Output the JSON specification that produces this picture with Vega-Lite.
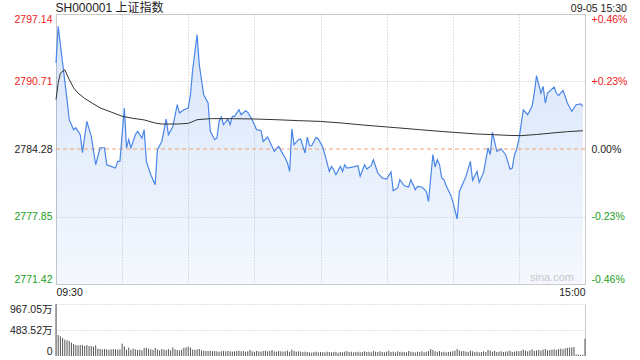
{
"$schema": "https://vega.github.io/schema/vega-lite/v6.json",
"background": "#ffffff",
"padding": {"left": 5, "top": 2, "right": 5, "bottom": 4},
"bounds": "flush",
"spacing": 20,
"config": {
  "font": "Liberation Sans, Noto Sans CJK SC",
  "view": {"stroke": null},
  "axis": {"labelFont": "Liberation Sans, Noto Sans CJK SC", "labelFontSize": 10.5, "ticks": false, "domain": false, "title": null, "labelOverlap": false},
  "title": {"font": "Liberation Sans, Noto Sans CJK SC", "fontWeight": "normal", "color": "#222222"}
},
"title": {"text": "SH000001 上证指数", "anchor": "start", "fontSize": 12, "offset": 2, "dy": 14, "dx": 50},
"datasets": {
"price": [
{"m":0,"p":2792.47},{"m":1,"p":2795.96},{"m":3,"p":2792.47},{"m":5,"p":2788.98},{"m":6,"p":2787.07},{"m":8,"p":2786.12},{"m":9,"p":2786.31},{"m":11,"p":2785.64},{"m":12,"p":2783.93},{"m":14,"p":2786.91},{"m":16,"p":2785.48},{"m":18,"p":2782.78},{"m":20,"p":2784.40},{"m":22,"p":2784.40},{"m":23,"p":2782.78},{"m":25,"p":2782.62},{"m":27,"p":2782.47},{"m":28,"p":2783.10},{"m":29,"p":2783.10},{"m":31,"p":2788.19},{"m":32,"p":2784.38},{"m":33,"p":2785.17},{"m":34,"p":2784.38},{"m":36,"p":2785.64},{"m":37,"p":2785.96},{"m":39,"p":2785.33},{"m":40,"p":2786.12},{"m":41,"p":2783.10},{"m":43,"p":2781.83},{"m":45,"p":2780.88},{"m":46,"p":2784.21},{"m":48,"p":2785.00},{"m":50,"p":2787.14},{"m":51,"p":2785.64},{"m":53,"p":2786.43},{"m":55,"p":2788.50},{"m":56,"p":2787.71},{"m":58,"p":2788.02},{"m":60,"p":2788.19},{"m":61,"p":2789.45},{"m":62,"p":2791.83},{"m":64,"p":2795.17},{"m":65,"p":2792.31},{"m":66,"p":2790.88},{"m":67,"p":2789.45},{"m":69,"p":2788.66},{"m":70,"p":2785.96},{"m":72,"p":2785.17},{"m":73,"p":2785.33},{"m":74,"p":2786.91},{"m":75,"p":2787.33},{"m":76,"p":2786.59},{"m":78,"p":2787.14},{"m":79,"p":2786.59},{"m":80,"p":2787.39},{"m":81,"p":2787.39},{"m":83,"p":2788.02},{"m":84,"p":2787.55},{"m":86,"p":2787.93},{"m":87,"p":2787.77},{"m":89,"p":2787.07},{"m":91,"p":2786.12},{"m":93,"p":2786.05},{"m":94,"p":2785.00},{"m":96,"p":2785.42},{"m":98,"p":2784.53},{"m":99,"p":2784.05},{"m":101,"p":2784.53},{"m":102,"p":2784.15},{"m":104,"p":2783.42},{"m":105,"p":2782.95},{"m":106,"p":2782.15},{"m":107,"p":2786.19},{"m":108,"p":2784.69},{"m":110,"p":2785.17},{"m":111,"p":2785.23},{"m":113,"p":2783.90},{"m":114,"p":2785.42},{"m":115,"p":2784.59},{"m":116,"p":2784.59},{"m":118,"p":2785.38},{"m":119,"p":2785.23},{"m":121,"p":2784.47},{"m":122,"p":2783.74},{"m":124,"p":2782.15},{"m":125,"p":2782.62},{"m":126,"p":2782.31},{"m":127,"p":2781.83},{"m":129,"p":2782.62},{"m":130,"p":2782.15},{"m":131,"p":2782.78},{"m":132,"p":2782.47},{"m":135,"p":2782.57},{"m":137,"p":2782.69},{"m":138,"p":2781.67},{"m":140,"p":2782.78},{"m":141,"p":2782.37},{"m":143,"p":2782.69},{"m":144,"p":2783.26},{"m":146,"p":2781.99},{"m":148,"p":2781.52},{"m":150,"p":2781.42},{"m":152,"p":2782.09},{"m":153,"p":2780.31},{"m":155,"p":2780.57},{"m":156,"p":2781.36},{"m":158,"p":2780.78},{"m":160,"p":2780.66},{"m":161,"p":2781.36},{"m":163,"p":2780.40},{"m":164,"p":2780.72},{"m":166,"p":2780.66},{"m":168,"p":2780.24},{"m":169,"p":2779.29},{"m":171,"p":2783.74},{"m":172,"p":2782.57},{"m":173,"p":2783.26},{"m":174,"p":2782.78},{"m":175,"p":2781.52},{"m":176,"p":2781.36},{"m":177,"p":2780.78},{"m":179,"p":2779.93},{"m":180,"p":2779.29},{"m":182,"p":2777.61},{"m":183,"p":2780.24},{"m":185,"p":2781.19},{"m":186,"p":2781.67},{"m":188,"p":2783.10},{"m":189,"p":2781.29},{"m":191,"p":2782.15},{"m":192,"p":2781.10},{"m":194,"p":2782.05},{"m":196,"p":2784.38},{"m":197,"p":2783.74},{"m":198,"p":2785.86},{"m":200,"p":2784.05},{"m":202,"p":2784.28},{"m":204,"p":2783.74},{"m":206,"p":2782.37},{"m":207,"p":2782.47},{"m":208,"p":2783.74},{"m":209,"p":2784.28},{"m":210,"p":2785.17},{"m":211,"p":2786.59},{"m":212,"p":2788.02},{"m":214,"p":2787.55},{"m":216,"p":2788.34},{"m":217,"p":2789.61},{"m":218,"p":2791.26},{"m":220,"p":2789.61},{"m":221,"p":2790.24},{"m":222,"p":2788.66},{"m":223,"p":2789.61},{"m":226,"p":2790.19},{"m":227,"p":2789.61},{"m":228,"p":2789.36},{"m":230,"p":2789.86},{"m":231,"p":2789.29},{"m":232,"p":2788.66},{"m":234,"p":2787.86},{"m":236,"p":2788.50},{"m":238,"p":2788.57},{"m":239,"p":2788.34}
],
"avg": [
{"m":0,"a":2788.98},{"m":1,"a":2790.6},{"m":2,"a":2791.5},{"m":4,"a":2791.83},{"m":6,"a":2790.9},{"m":8,"a":2790.1},{"m":10,"a":2789.6},{"m":13,"a":2789.1},{"m":16,"a":2788.7},{"m":20,"a":2788.2},{"m":25,"a":2787.8},{"m":30,"a":2787.4},{"m":35,"a":2787.2},{"m":40,"a":2787.05},{"m":45,"a":2786.75},{"m":48,"a":2786.66},{"m":55,"a":2786.66},{"m":60,"a":2786.72},{"m":64,"a":2787.07},{"m":70,"a":2787.17},{"m":80,"a":2787.17},{"m":90,"a":2787.14},{"m":100,"a":2787.07},{"m":110,"a":2786.98},{"m":120,"a":2786.91},{"m":130,"a":2786.75},{"m":140,"a":2786.55},{"m":150,"a":2786.38},{"m":156,"a":2786.28},{"m":165,"a":2786.12},{"m":175,"a":2785.95},{"m":181,"a":2785.86},{"m":190,"a":2785.72},{"m":199,"a":2785.64},{"m":205,"a":2785.58},{"m":211,"a":2785.55},{"m":218,"a":2785.66},{"m":225,"a":2785.80},{"m":232,"a":2785.93},{"m":239,"a":2786.02}
],
"vol": [
{"m":0,"v":967},{"m":1,"v":390},{"m":2,"v":366},{"m":3,"v":335},{"m":4,"v":304},{"m":5,"v":291},{"m":6,"v":279},{"m":7,"v":248},{"m":8,"v":223},{"m":9,"v":205},{"m":10,"v":198},{"m":11,"v":205},{"m":12,"v":205},{"m":13,"v":186},{"m":14,"v":205},{"m":15,"v":186},{"m":16,"v":186},{"m":17,"v":174},{"m":18,"v":198},{"m":19,"v":136},{"m":20,"v":130},{"m":21,"v":124},{"m":22,"v":130},{"m":23,"v":124},{"m":24,"v":118},{"m":25,"v":124},{"m":26,"v":130},{"m":27,"v":124},{"m":28,"v":118},{"m":29,"v":124},{"m":30,"v":230},{"m":31,"v":180},{"m":32,"v":118},{"m":33,"v":155},{"m":34,"v":112},{"m":35,"v":136},{"m":36,"v":124},{"m":37,"v":112},{"m":38,"v":118},{"m":39,"v":105},{"m":40,"v":149},{"m":41,"v":155},{"m":42,"v":136},{"m":43,"v":124},{"m":44,"v":112},{"m":45,"v":149},{"m":46,"v":124},{"m":47,"v":105},{"m":48,"v":130},{"m":49,"v":118},{"m":50,"v":112},{"m":51,"v":130},{"m":52,"v":105},{"m":53,"v":161},{"m":54,"v":124},{"m":55,"v":112},{"m":56,"v":105},{"m":57,"v":118},{"m":58,"v":149},{"m":59,"v":161},{"m":60,"v":174},{"m":61,"v":155},{"m":62,"v":118},{"m":63,"v":112},{"m":64,"v":124},{"m":65,"v":130},{"m":66,"v":105},{"m":67,"v":99},{"m":68,"v":93},{"m":69,"v":93},{"m":70,"v":99},{"m":71,"v":87},{"m":72,"v":93},{"m":73,"v":87},{"m":74,"v":80},{"m":75,"v":87},{"m":76,"v":93},{"m":77,"v":87},{"m":78,"v":93},{"m":79,"v":87},{"m":80,"v":80},{"m":81,"v":87},{"m":82,"v":93},{"m":83,"v":99},{"m":84,"v":87},{"m":85,"v":93},{"m":86,"v":80},{"m":87,"v":87},{"m":88,"v":112},{"m":89,"v":87},{"m":90,"v":80},{"m":91,"v":93},{"m":92,"v":87},{"m":93,"v":80},{"m":94,"v":93},{"m":95,"v":99},{"m":96,"v":87},{"m":97,"v":93},{"m":98,"v":112},{"m":99,"v":87},{"m":100,"v":80},{"m":101,"v":93},{"m":102,"v":87},{"m":103,"v":80},{"m":104,"v":87},{"m":105,"v":99},{"m":106,"v":80},{"m":107,"v":118},{"m":108,"v":93},{"m":109,"v":80},{"m":110,"v":87},{"m":111,"v":80},{"m":112,"v":74},{"m":113,"v":80},{"m":114,"v":74},{"m":115,"v":68},{"m":116,"v":62},{"m":117,"v":74},{"m":118,"v":80},{"m":119,"v":68},{"m":120,"v":74},
{"m":121,"v":74},{"m":122,"v":68},{"m":123,"v":80},{"m":124,"v":74},{"m":125,"v":68},{"m":126,"v":74},{"m":127,"v":80},{"m":128,"v":62},{"m":129,"v":74},{"m":130,"v":68},{"m":131,"v":80},{"m":132,"v":93},{"m":133,"v":74},{"m":134,"v":80},{"m":135,"v":68},{"m":136,"v":74},{"m":137,"v":80},{"m":138,"v":68},{"m":139,"v":74},{"m":140,"v":87},{"m":141,"v":74},{"m":142,"v":80},{"m":143,"v":68},{"m":144,"v":93},{"m":145,"v":80},{"m":146,"v":74},{"m":147,"v":87},{"m":148,"v":74},{"m":149,"v":68},{"m":150,"v":80},{"m":151,"v":99},{"m":152,"v":74},{"m":153,"v":80},{"m":154,"v":68},{"m":155,"v":87},{"m":156,"v":74},{"m":157,"v":80},{"m":158,"v":74},{"m":159,"v":68},{"m":160,"v":93},{"m":161,"v":80},{"m":162,"v":74},{"m":163,"v":68},{"m":164,"v":80},{"m":165,"v":74},{"m":166,"v":87},{"m":167,"v":68},{"m":168,"v":80},{"m":169,"v":93},{"m":170,"v":130},{"m":171,"v":112},{"m":172,"v":87},{"m":173,"v":80},{"m":174,"v":93},{"m":175,"v":74},{"m":176,"v":80},{"m":177,"v":68},{"m":178,"v":74},{"m":179,"v":80},{"m":180,"v":87},{"m":181,"v":99},{"m":182,"v":130},{"m":183,"v":105},{"m":184,"v":87},{"m":185,"v":93},{"m":186,"v":80},{"m":187,"v":74},{"m":188,"v":99},{"m":189,"v":87},{"m":190,"v":74},{"m":191,"v":80},{"m":192,"v":68},{"m":193,"v":74},{"m":194,"v":87},{"m":195,"v":74},{"m":196,"v":112},{"m":197,"v":99},{"m":198,"v":80},{"m":199,"v":93},{"m":200,"v":74},{"m":201,"v":80},{"m":202,"v":87},{"m":203,"v":74},{"m":204,"v":80},{"m":205,"v":87},{"m":206,"v":99},{"m":207,"v":74},{"m":208,"v":80},{"m":209,"v":93},{"m":210,"v":87},{"m":211,"v":99},{"m":212,"v":118},{"m":213,"v":99},{"m":214,"v":87},{"m":215,"v":105},{"m":216,"v":124},{"m":217,"v":93},{"m":218,"v":105},{"m":219,"v":112},{"m":220,"v":99},{"m":221,"v":118},{"m":222,"v":130},{"m":223,"v":105},{"m":224,"v":112},{"m":225,"v":118},{"m":226,"v":124},{"m":227,"v":112},{"m":228,"v":130},{"m":229,"v":136},{"m":230,"v":124},{"m":231,"v":143},{"m":232,"v":149},{"m":233,"v":155},{"m":234,"v":161},{"m":235,"v":167},{"m":236,"v":30},{"m":237,"v":25},{"m":238,"v":20},{"m":239,"v":25},{"m":240,"v":322}
],
"one": [{"label": "sina.com"}]
},
"vconcat": [
{
  "width": 529, "height": 270,
  "title": {"text": "09-05 15:30", "anchor": "end", "fontSize": 10.5, "offset": 0},
  "view": {"stroke": "#cccccc"},
  "resolve": {"axis": {"y": "independent"}},
  "layer": [
    {
      "data": {"name": "price"},
      "mark": {"type": "area", "fill": {"x1": 0, "y1": 0, "x2": 0, "y2": 1, "gradient": "linear", "stops": [{"offset": 0, "color": "rgba(74,134,232,0.215)"}, {"offset": 1, "color": "rgba(74,134,232,0.06)"}]}},
      "encoding": {
        "x": {"field": "m", "type": "quantitative", "scale": {"domain": [0, 240], "nice": false, "zero": false},
          "axis": {"values": [0, 30, 60, 90, 120, 150, 180, 210, 240], "labelExpr": "datum.value == 0 ? '09:30' : datum.value == 240 ? '15:00' : ''", "labelFlush": true, "labelPadding": 3, "labelColor": "#222222", "grid": true, "gridColor": "#c4c4c4", "gridDash": [1, 2]}},
        "y": {"field": "p", "type": "quantitative", "scale": {"domain": [2771.42, 2797.14], "nice": false, "zero": false},
          "axis": {"orient": "left", "values": [2771.42, 2777.85, 2784.28, 2790.71, 2797.14], "format": ".2f", "labelFlush": true, "labelPadding": 4, "minExtent": 50, "maxExtent": 50,
            "grid": true, "gridColor": "#c4c4c4", "gridDash": [1, 2],
            "gridOpacity": {"condition": {"test": "abs(datum.value - 2784.28) < 0.01", "value": 0}, "value": 1},
            "labelColor": {"condition": [{"test": "datum.value > 2784.3", "value": "#f02020"}, {"test": "datum.value < 2784.2", "value": "#1a9e1a"}], "value": "#222222"}}},
        "y2": {"datum": 2771.42}
      }
    },
    {
      "data": {"name": "one"},
      "mark": {"type": "rule", "stroke": "#f0a070", "strokeDash": [4, 3], "strokeWidth": 1},
      "encoding": {"y": {"datum": 2784.28, "type": "quantitative", "scale": {"domain": [2771.42, 2797.14], "nice": false, "zero": false}, "axis": null}}
    },
    {
      "data": {"name": "price"},
      "mark": {"type": "line", "stroke": "#4a86e8", "strokeWidth": 1.2, "interpolate": "linear"},
      "encoding": {
        "x": {"field": "m", "type": "quantitative", "scale": {"domain": [0, 240], "nice": false, "zero": false}},
        "y": {"field": "p", "type": "quantitative", "scale": {"domain": [2771.42, 2797.14], "nice": false, "zero": false},
          "axis": {"orient": "right", "values": [2771.42, 2777.85, 2784.28, 2790.71, 2797.14], "labelFlush": true, "labelPadding": 6, "grid": false,
            "labelExpr": "(datum.value > 2784.3 ? '+' : datum.value < 2784.2 ? '-' : '') + format(abs(datum.value - 2784.28) / 2784.28 * 100, '.2f') + '%'",
            "labelColor": {"condition": [{"test": "datum.value > 2784.3", "value": "#f02020"}, {"test": "datum.value < 2784.2", "value": "#1a9e1a"}], "value": "#222222"}}}
      }
    },
    {
      "data": {"name": "avg"},
      "mark": {"type": "line", "stroke": "#333333", "strokeWidth": 1},
      "encoding": {
        "x": {"field": "m", "type": "quantitative", "scale": {"domain": [0, 240], "nice": false, "zero": false}},
        "y": {"field": "a", "type": "quantitative", "scale": {"domain": [2771.42, 2797.14], "nice": false, "zero": false}, "axis": null}
      }
    },
    {
      "data": {"name": "one"},
      "mark": {"type": "text", "align": "right", "baseline": "bottom", "dx": -11, "dy": -1, "fontSize": 11, "color": "#c8c8c8"},
      "encoding": {
        "text": {"field": "label"},
        "x": {"datum": 240, "type": "quantitative", "scale": {"domain": [0, 240], "nice": false, "zero": false}},
        "y": {"datum": 2771.42, "type": "quantitative", "scale": {"domain": [2771.42, 2797.14], "nice": false, "zero": false}, "axis": null}
      }
    }
  ]
},
{
  "width": 529, "height": 52,
  "resolve": {"axis": {"y": "independent"}},
  "layer": [
    {
      "data": {"name": "vol"},
      "mark": {"type": "rule", "stroke": "#555555", "strokeWidth": 1},
      "encoding": {
        "x": {"field": "m", "type": "quantitative", "scale": {"domain": [0, 240], "nice": false, "zero": false}, "axis": null},
        "y": {"field": "v", "type": "quantitative", "scale": {"domain": [0, 967.05], "nice": false},
          "axis": {"orient": "left", "values": [0, 483.52, 967.05], "labelExpr": "datum.value == 0 ? '0' : format(datum.value, '.2f') + '万'", "labelFlush": true, "labelPadding": 4, "labelColor": "#222222", "minExtent": 50, "maxExtent": 50,
            "grid": true, "gridColor": "#c4c4c4", "gridDash": [1, 2], "gridOpacity": {"condition": {"test": "datum.value < 1", "value": 0}, "value": 1},
            "domain": true, "domainColor": "#dddddd"}},
        "y2": {"datum": 0}
      }
    },
    {
      "data": {"name": "vol"},
      "mark": {"type": "rule", "strokeOpacity": 0},
      "encoding": {
        "x": {"field": "m", "type": "quantitative", "scale": {"domain": [0, 240], "nice": false, "zero": false}},
        "y": {"field": "v", "type": "quantitative", "scale": {"domain": [0, 967.05], "nice": false},
          "axis": {"orient": "right", "labels": false, "grid": false, "domain": true, "domainColor": "#cccccc"}},
        "y2": {"datum": 0}
      }
    }
  ]
}
]
}
